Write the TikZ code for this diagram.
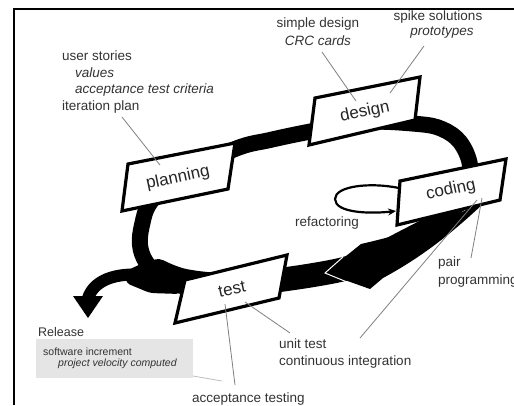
\documentclass[tikz,border=0pt]{standalone}
\usepackage{fontspec}
\setmainfont{Liberation Sans}
\usetikzlibrary{arrows.meta}
\begin{document}
\begin{tikzpicture}[x=1pt,y=-1pt,
  lbl/.style={font=\fontsize{13.5}{16}\selectfont, text=black!80, inner sep=0pt},
  lblw/.style={lbl, anchor=west},
  boxtxt/.style={font=\fontsize{17}{20}\selectfont, text=black!85, rotate=12, inner sep=0pt},
  phase/.style={draw=black, line width=3.2pt, fill=white, line join=miter},
  leader/.style={draw=black!50, line width=0.8pt},
  band/.style={line width=16pt},
  smalltxt/.style={font=\fontsize{10.5}{12}\selectfont, text=black!80, inner sep=0pt, anchor=west}
]
\useasboundingbox (0,0) rectangle (514,405);
\fill[white] (0,0) rectangle (514,405);
% frame
\draw[line width=2.5pt] (14,405) -- (14,9) -- (514,9);

% main loop band
\draw[band] plot[smooth cycle, tension=0.6] coordinates {(175,178) (235,149) (270,140) (313,131) (365,122) (418,124) (442,129) (460,142) (470,165) (468,192) (445,215) (400,240) (345,267) (290,279) (232,287) (182,286) (160,276) (146,262) (140,245) (142,225) (150,203)};
% thicker lower part
\draw[line width=24pt, line cap=round] plot[smooth, tension=0.6] coordinates {(158,271) (185,281) (232,285) (287,279) (340,270) (372,260)};
% junction blob
\fill[rounded corners=4pt] (126,271) -- (145,262) -- (175,275) -- (180,294) -- (150,293) -- (126,283) -- cycle;
% release arrow
\draw[line width=12pt] (155,276) .. controls (120,271) and (95,278) .. (88,298);
\fill (73,296) -- (103,296) -- (88,318) -- cycle;
% big arrow
\fill (476,205) .. controls (445,222) and (400,235) .. (361,244) -- (325,273) -- (370,289) -- (383,278) .. controls (420,258) and (450,235) .. (484,203) -- cycle;
\draw[white, line width=1pt] (343,257) -- (325,273) -- (347,282);

% phase boxes
\draw[phase] (128,164) -- (235,143) -- (228,189) -- (122,211) -- cycle;
\draw[phase] (315,98) -- (420,77) -- (415,120) -- (309,145) -- cycle;
\draw[phase] (400,181) -- (506,159) -- (500,200) -- (397,225) -- cycle;
\draw[phase] (185,280) -- (287,255) -- (279,298) -- (175,323) -- cycle;
\node[boxtxt] (planning) at (178,178) {planning};
\node[boxtxt] (design) at (365,112) {design};
\node[boxtxt] (coding) at (451,190) {coding};
\node[boxtxt] (test) at (232,289) {test};

% refactoring loop
\coordinate (refA) at (399,188);
\coordinate (refB) at (396,211);
\draw[line width=2.2pt, -{Stealth[length=8pt,width=7pt]}] (refA) .. controls (370,182) and (335,186) .. (335,199) .. controls (335,213) and (370,214) .. (refB);

% labels
\node[lblw] (us) at (62,56) {user stories};
\node[lblw] (val) at (75,73) {\textit{values}};
\node[lblw] (atc) at (75,90) {\textit{acceptance test criteria}};
\node[lblw] (ip) at (62,107) {iteration plan};
\node[lbl] (sd) at (318,24) {simple design};
\node[lbl] (crc) at (318,41) {\textit{CRC cards}};
\node[lbl] (ss) at (438,17) {spike solutions};
\node[lbl] (pt) at (442,33) {\textit{prototypes}};
\node[lblw] (ref) at (295,223) {refactoring};
\node[lblw] (pair) at (438,263) {pair};
\node[lblw] (prog) at (438,281) {programming};
\node[lblw] (ut) at (279,344) {unit test};
\node[lblw] (ci) at (279,362) {continuous integration};
\node[lblw] (at) at (192,399) {acceptance testing};
\fill[black!10] (36,339) rectangle (193,378);
\node[lblw, font=\fontsize{12.5}{14}\selectfont] (rel) at (38,332) {Release};
\node[smalltxt] (sw) at (43,352) {software increment};
\node[smalltxt] (pvc) at (58,364) {\textit{project velocity computed}};

% leader lines
\coordinate (l1a) at (122,117); \coordinate (l1b) at (160,165);
\coordinate (l2a) at (322,52);  \coordinate (l2b) at (356,101);
\coordinate (l3a) at (424,46);  \coordinate (l3b) at (390,93);
\coordinate (l4a) at (471,258); \coordinate (l4b) at (482,198);
\coordinate (l5a) at (360,338); \coordinate (l5b) at (477,200);
\coordinate (l6a) at (290,333); \coordinate (l6b) at (245,302);
\coordinate (l7a) at (235,385); \coordinate (l7b) at (225,304);
\coordinate (l8a) at (193,376); \coordinate (l8b) at (222,381);
\draw[leader] (l1a) -- (l1b);
\draw[leader] (l2a) -- (l2b);
\draw[leader] (l3a) -- (l3b);
\draw[leader] (l4a) -- (l4b);
\draw[leader] (l5a) -- (l5b);
\draw[leader] (l6a) -- (l6b);
\draw[leader] (l7a) -- (l7b);
\draw[leader, draw=black!25] (l8a) -- (l8b);
\end{tikzpicture}
\end{document}
